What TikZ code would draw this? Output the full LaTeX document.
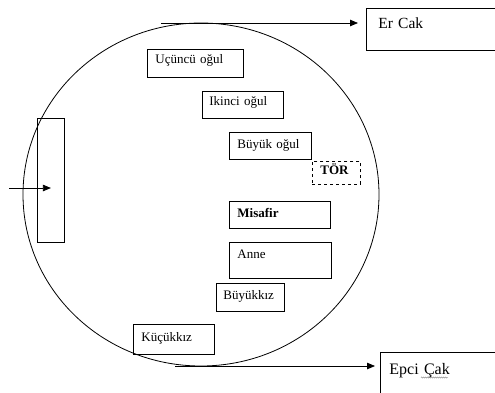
\documentclass[tikz,border=0pt]{standalone}
\usepackage{fontspec}
\setmainfont{Liberation Serif}
\usetikzlibrary{arrows.meta,decorations.pathmorphing}

\begin{document}
\begin{tikzpicture}[x=1pt,y=-1pt,line width=0.8pt,
    room/.style={draw,anchor=north west,align=left,inner ysep=0pt,inner xsep=8pt,font=\fontsize{13}{15}\selectfont},
    cak/.style={room,font=\fontsize{15.5}{18}\selectfont},
    ok/.style={-{Triangle[length=8pt,width=6.5pt]}}]
\useasboundingbox (0,0) rectangle (495,392);
\draw (201,194.5) ellipse [x radius=178, y radius=171.5]; % yurt
\node[room,text width=80pt,text height=14pt,text depth=14pt] (ucuncu) at (147,49) {Uçüncü oğul};
\node[room,inner xsep=7pt,text width=67pt,text height=14pt,text depth=13pt] (ikinci) at (202,91) {Ikinci oğul};
\node[room,text width=66pt,text height=16pt,text depth=11pt] (buyukogul) at (229,132) {Büyük oğul};
\node[room,dashed,text width=32pt,text height=13pt,text depth=10pt,font=\fontsize{13}{15}\selectfont\bfseries] (tor) at (312,161) {TÖR};
\node[room,text width=85pt,text height=16pt,text depth=11pt,font=\fontsize{13}{15}\selectfont\bfseries] (misafir) at (229,201) {Misafir};
\node[room,text width=86pt,text height=16pt,text depth=20pt] (anne) at (229,242) {Anne};
\node[room,inner xsep=7pt,text width=54pt,text height=16pt,text depth=12pt] (buyukkiz) at (216,283) {Büyükkız};
\node[room,text width=65pt,text height=17pt,text depth=13pt] (kucukkiz) at (133,324) {Küçükkız};
\node[draw,anchor=north west,minimum width=27pt,minimum height=124pt,inner sep=0pt] (kapi) at (37,118) {};
\node[cak,inner xsep=12pt,text width=150pt,text height=20pt,text depth=22pt] (ercak) at (366,8) {Er Cak};
\node[cak,inner xsep=9pt,text width=150pt,text height=22pt,text depth=30pt,font=\fontsize{16}{18}\selectfont] (epcicak) at (380,352) {Epci Çak};
% oklar
\coordinate (ustok) at (161,23);
\coordinate (altok) at (175,366);
\coordinate (giris) at (9,188);
\draw[ok,shorten >=8pt] (ustok) -- (ercak.west |- ustok);
\draw[ok,shorten >=5pt] (altok) -- (epcicak.west |- altok);
\draw[ok] (giris) -- (kapi.center |- giris);
\draw[gray,line width=0.4pt,decorate,decoration={snake,amplitude=0.6pt,segment length=2pt}] (421,377.5) -- (448,377.5);
\end{tikzpicture}
\end{document}
